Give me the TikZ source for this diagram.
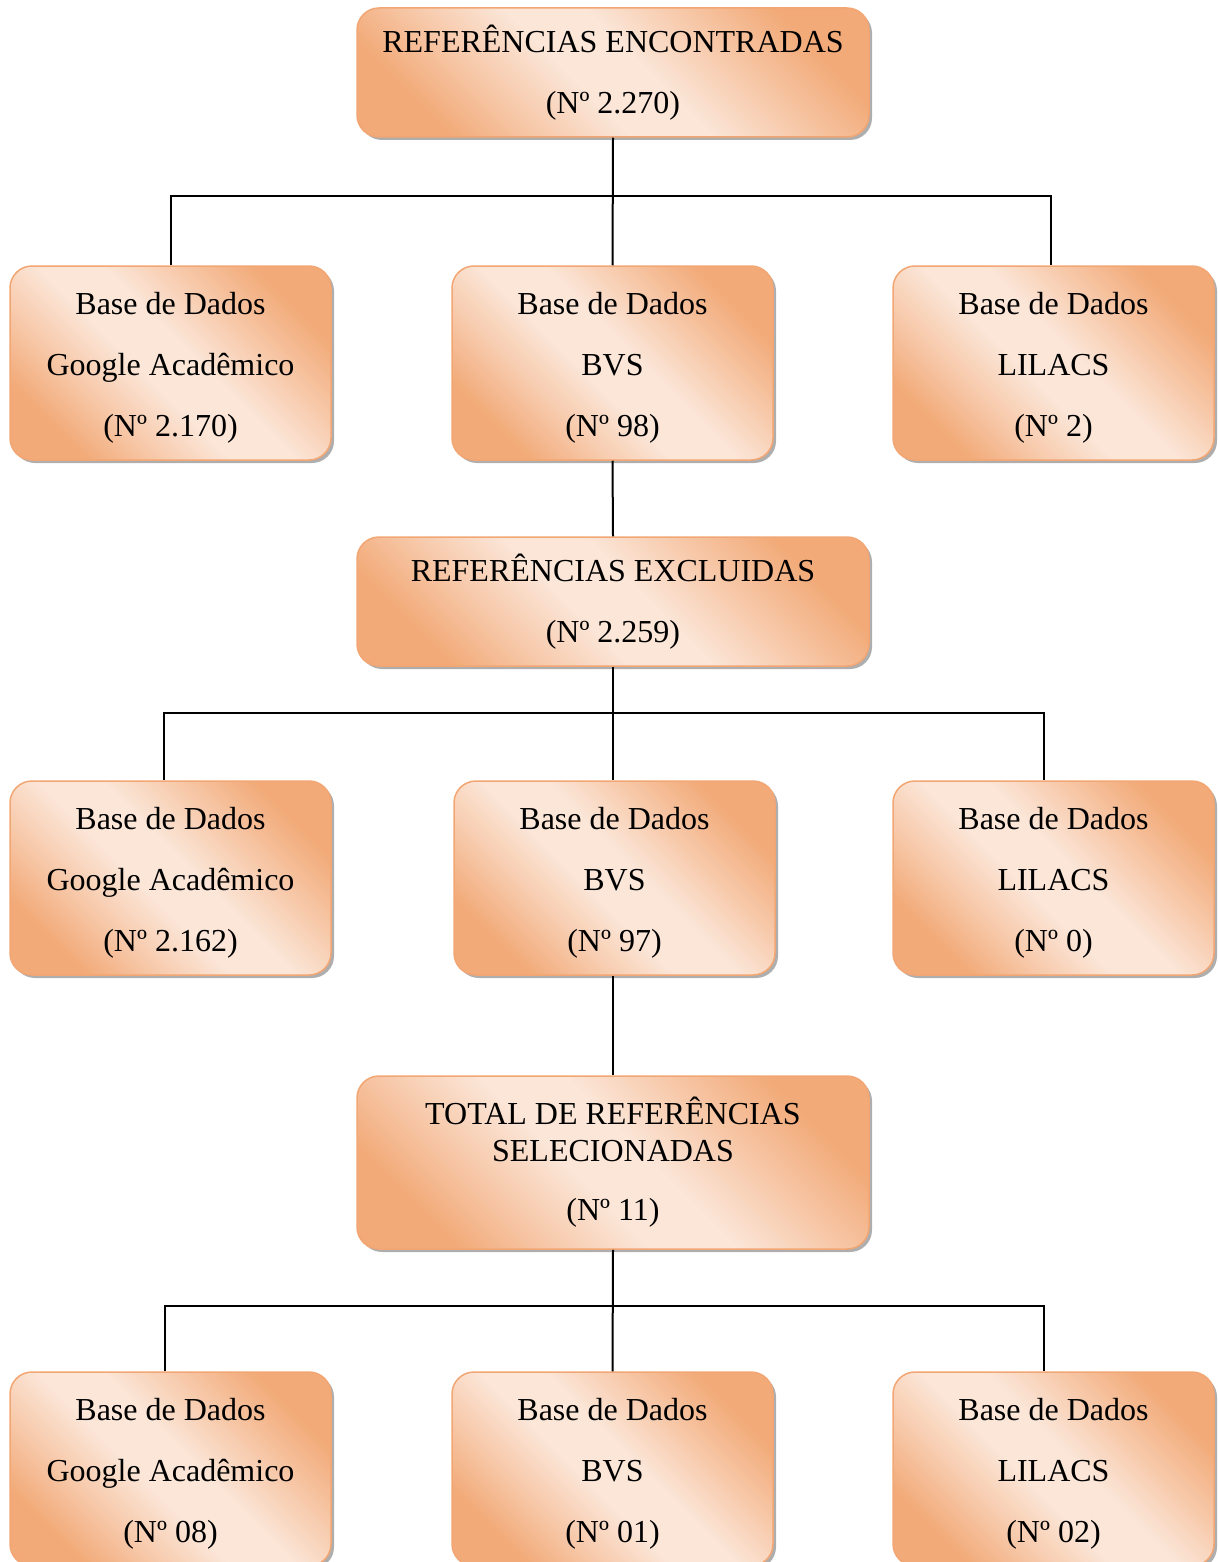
\documentclass[tikz,border=0pt]{standalone}
\usepackage{fontspec}
\setmainfont{Liberation Serif}
\usetikzlibrary{shadows}
\definecolor{ocdark}{RGB}{242,170,120}
\definecolor{ocmid}{RGB}{247,201,170}
\definecolor{oclight}{RGB}{251,230,216}
\definecolor{ocborder}{RGB}{242,166,115}
\pgfdeclareverticalshading{orangebox}{100bp}{color(0bp)=(ocdark); color(25bp)=(ocdark); color(36bp)=(ocmid); color(46bp)=(oclight); color(55bp)=(oclight); color(65bp)=(ocmid); color(75bp)=(ocdark); color(100bp)=(ocdark)}
\newcommand\tstrut{\rule{0pt}{32pt}}
\tikzset{
  box/.style={rectangle, rounded corners=22pt, draw=ocborder, line width=1.5pt,
    shading=orangebox, shading angle=135,
    drop shadow={shadow xshift=3pt, shadow yshift=-3pt, fill=black!45, opacity=0.7},
    align=center, inner sep=0pt, text=black,
    font=\fontsize{32}{61}\selectfont},
  widebox/.style={box, minimum width=512pt, minimum height=129pt},
  smallbox/.style={box, minimum width=321pt, minimum height=194pt},
  conn/.style={draw=black, line width=2pt}
}
\begin{document}
\begin{tikzpicture}[x=1pt,y=-1pt]
\useasboundingbox (0,0) rectangle (1217,1562);
\fill[white] (0,0) rectangle (1217,1562);

\coordinate (j1l) at (171,196);
\coordinate (j1r) at (1051,196);
\coordinate (j2l) at (164,713);
\coordinate (j2r) at (1044,713);
\coordinate (j3l) at (165,1306);
\coordinate (j3r) at (1044,1306);

% top box
\node[widebox] (top) at (613,72.5) {REFERÊNCIAS ENCONTRADAS\\(Nº 2.270)};
% row 1
\node[smallbox] (r1a) at (170.5,363) {\tstrut Base de Dados\\Google Acadêmico\\(Nº 2.170)};
\node[smallbox] (r1b) at (612.5,363) {\tstrut Base de Dados\\BVS\\(Nº 98)};
\node[smallbox] (r1c) at (1053.5,363) {\tstrut Base de Dados\\LILACS\\(Nº 2)};
% excluded
\node[widebox] (exc) at (613,601.5) {REFERÊNCIAS EXCLUIDAS\\(Nº 2.259)};
% row 2
\node[smallbox] (r2a) at (170.5,878) {\tstrut Base de Dados\\Google Acadêmico\\(Nº 2.162)};
\node[smallbox] (r2b) at (614.5,878) {\tstrut Base de Dados\\BVS\\(Nº 97)};
\node[smallbox] (r2c) at (1053.5,878) {\tstrut Base de Dados\\LILACS\\(Nº 0)};
% total
\node[widebox, minimum height=173pt] (tot) at (613,1162.5) {TOTAL DE REFERÊNCIAS\\[-24pt]SELECIONADAS\\[-2pt](Nº 11)};
% row 3
\node[smallbox] (r3a) at (170.5,1469) {\tstrut Base de Dados\\Google Acadêmico\\(Nº 08)};
\node[smallbox] (r3b) at (612.5,1469) {\tstrut Base de Dados\\BVS\\(Nº 01)};
\node[smallbox] (r3c) at (1053.5,1469) {\tstrut Base de Dados\\LILACS\\(Nº 02)};

% connectors
\draw[conn] (top.south) -- (r1b.north);
\draw[conn] (j1l |- r1a.north) -- (j1l) -- (j1r) -- (j1r |- r1c.north);
\draw[conn] (r1b.south) -- (exc.north);
\draw[conn] (exc.south) -- (exc.south |- r2b.north);
\draw[conn] (j2l |- r2a.north) -- (j2l) -- (j2r) -- (j2r |- r2c.north);
\draw[conn] (r2b.south -| tot.south) -- (tot.north);
\draw[conn] (tot.south) -- (r3b.north);
\draw[conn] (j3l |- r3a.north) -- (j3l) -- (j3r) -- (j3r |- r3c.north);
\end{tikzpicture}
\end{document}
